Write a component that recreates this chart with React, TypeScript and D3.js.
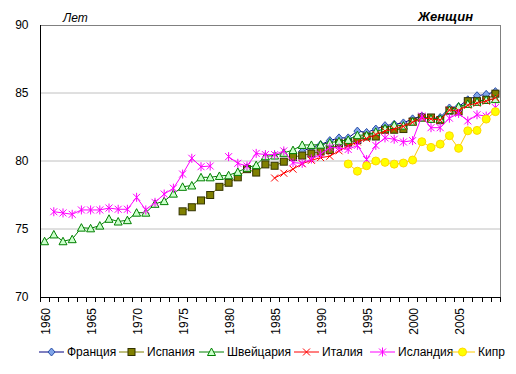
import React from "react";
import * as d3 from "d3";

const years: number[] = d3.range(1960, 2010);
const yTicks: number[] = [70, 75, 80, 85, 90];

type V = number | null;
const N = null;

// 1960..2009
const france: V[] = [
  N, N, N, N, N, N, N, N, N, N,
  N, N, N, N, N, N, N, N, N, N,
  N, N, N, N, N, N, N, N, 80.7, 81.0,
  81.2, 81.5, 81.7, 81.7, 82.2, 82.1, 82.35, 82.6, 82.7, 82.8,
  83.1, 83.3, 83.1, 83.2, 83.9, 84.0, 84.5, 84.8, 84.9, 85.1,
];
const spain: V[] = [
  N, N, N, N, N, N, N, N, N, N,
  N, N, N, N, N, 76.3, 76.6, 77.1, 77.5, 78.1,
  78.4, 78.8, 79.4, 79.15, 79.75, 79.65, 79.95, 80.3, 80.4, 80.55,
  80.7, 80.8, 81.3, 81.35, 81.55, 81.8, 81.8, 82.3, 82.3, 82.35,
  82.9, 83.2, 83.2, 83.0, 83.7, 83.65, 84.4, 84.4, 84.5, 84.95,
];
const switzerland: V[] = [
  74.1, 74.6, 74.1, 74.25, 75.1, 75.05, 75.25, 75.75, 75.55, 75.65,
  76.2, 76.2, 76.85, 77.05, 77.6, 78.1, 78.2, 78.8, 78.8, 78.9,
  78.95, 79.2, 79.5, 79.7, 80.35, 80.4, 80.6, 80.8, 81.18, 81.18,
  81.2, 81.35, 81.45, 81.55, 81.9, 81.9, 82.15, 82.4, 82.65, 82.6,
  82.9, 83.2, 83.1, 83.1, 83.75, 84.0, 84.2, 84.35, 84.5, 84.55,
];
const italy: V[] = [
  N, N, N, N, N, N, N, N, N, N,
  N, N, N, N, N, N, N, N, N, N,
  N, N, N, N, N, 78.75, 79.1, 79.4, 79.8, 80.05,
  80.25, 80.35, 80.75, 81.1, 81.4, 81.65, 81.95, 82.2, 82.35, 82.55,
  82.85, 83.15, 83.1, 83.0, 83.75, 83.7, 84.1, 84.25, 84.4, 84.65,
];
const iceland: V[] = [
  N, 76.27, 76.18, 76.08, 76.4, 76.4, 76.4, 76.54, 76.45, 76.45,
  77.33, 76.4, 76.96, 77.57, 78.0, 79.04, 80.2, 79.58, 79.63, N,
  80.32, 79.83, 79.63, 80.56, 80.47, 80.47, 80.74, 79.88, 79.83, 80.15,
  80.5, 81.0, 80.95, 80.85, 81.15, 80.1, 81.15, 81.7, 81.6, 81.4,
  81.5, 83.3, 82.45, 82.45, 83.15, 83.5, 82.95, 83.4, 83.3, 83.93,
];
const cyprus: V[] = [
  N, N, N, N, N, N, N, N, N, N,
  N, N, N, N, N, N, N, N, N, N,
  N, N, N, N, N, N, N, N, N, N,
  N, N, N, 79.78, 79.25, 79.65, 80.0, 79.9, 79.77, 79.85,
  80.07, 81.42, 81.0, 81.24, 81.86, 80.93, 82.22, 82.25, 83.08, 83.63,
];

const seriesNames: string[] = ["Франция", "Испания", "Швейцария", "Италия", "Исландия", "Кипр"];
const seriesValues: V[][] = [france, spain, switzerland, italy, iceland, cyprus];

type Style = { line: string; marker: string; fill: string; stroke: string };
const styles: Style[] = [
  { line: "#000080", marker: "diamond", fill: "#7FA4E8", stroke: "#2A4FA8" },
  { line: "#808000", marker: "square", fill: "#808000", stroke: "#333300" },
  { line: "#008000", marker: "triangle", fill: "#CCFFCC", stroke: "#008000" },
  { line: "#FF0000", marker: "x", fill: "none", stroke: "#FF0000" },
  { line: "#FF00FF", marker: "star", fill: "none", stroke: "#FF00FF" },
  { line: "#FFCC00", marker: "circle", fill: "#FFFF00", stroke: "#FFD700" },
];

const FONT = "'Liberation Sans', Arial, sans-serif";
const W = 516, H = 374;
const plot = { left: 40, right: 500, top: 25, bottom: 297 };
const legendX = [39, 119, 199, 294, 370, 450];
const legendY = 352;

function Marker({ kind, x, y, s }: { kind: string; x: number; y: number; s: Style }) {
  switch (kind) {
    case "diamond":
      return <path d={`M${x},${y - 4}L${x + 3.5},${y}L${x},${y + 4}L${x - 3.5},${y}Z`} fill={s.fill} stroke={s.stroke} strokeWidth={1} />;
    case "square":
      return <rect x={x - 3.5} y={y - 3.5} width={7} height={7} fill={s.fill} stroke={s.stroke} strokeWidth={1} />;
    case "triangle":
      return <path d={`M${x},${y - 4}L${x + 4},${y + 3.5}L${x - 4},${y + 3.5}Z`} fill={s.fill} stroke={s.stroke} strokeWidth={1} />;
    case "x":
      return <path d={`M${x - 3.5},${y - 3.5}L${x + 3.5},${y + 3.5}M${x - 3.5},${y + 3.5}L${x + 3.5},${y - 3.5}`} stroke={s.stroke} strokeWidth={1} fill="none" />;
    case "star":
      return <path d={`M${x - 3.5},${y - 3.5}L${x + 3.5},${y + 3.5}M${x - 3.5},${y + 3.5}L${x + 3.5},${y - 3.5}M${x},${y - 4.5}L${x},${y + 4.5}`} stroke={s.stroke} strokeWidth={1} fill="none" />;
    case "circle":
      return <circle cx={x} cy={y} r={4} fill={s.fill} stroke={s.stroke} strokeWidth={1} />;
  }
  return null;
}

export default function App() {
  const x = d3.scaleBand<number>().domain(years).range([plot.left, plot.right]).padding(0);
  const bw = x.bandwidth();
  const cx = (yr: number) => (x(yr) as number) + bw / 2;
  const y = d3.scaleLinear().domain([70, 90]).range([plot.bottom, plot.top]);

  const boundaries = d3.range(0, years.length + 1).map((i) => plot.left + i * bw);

  return (
    <svg width={W} height={H} style={{ position: "absolute", left: 0, top: 0, background: "#fff" }} fontFamily={FONT}>
      <rect x={0} y={0} width={W} height={H} fill="#fff" />
      {/* gridlines */}
      {yTicks.filter((t) => t !== 70 && t !== 90).map((t) => (
        <line key={t} x1={plot.left} x2={plot.right} y1={y(t)} y2={y(t)} stroke="#C0C0C0" strokeWidth={1} />
      ))}
      {/* plot border */}
      <line x1={plot.left} x2={plot.right} y1={plot.top + 0.5} y2={plot.top + 0.5} stroke="#808080" />
      <line x1={plot.right + 0.5} x2={plot.right + 0.5} y1={plot.top} y2={plot.bottom} stroke="#808080" />
      {/* axes */}
      <line x1={plot.left + 0.5} x2={plot.left + 0.5} y1={plot.top} y2={plot.bottom} stroke="#000" />
      <line x1={plot.left} x2={plot.right + 1} y1={plot.bottom + 0.5} y2={plot.bottom + 0.5} stroke="#000" />
      {boundaries.map((bx, i) => (
        <line key={i} x1={Math.round(bx) + 0.5} x2={Math.round(bx) + 0.5} y1={plot.bottom} y2={plot.bottom + 5} stroke="#000" />
      ))}
      {yTicks.map((t) => (
        <text key={t} x={28.5} y={y(t)} dy="0.36em" textAnchor="end" fontSize={12} fill="#000">{t}</text>
      ))}
      {years.filter((yr) => yr % 5 === 0).map((yr) => (
        <text key={yr} transform={`translate(${cx(yr)},${308}) rotate(-90)`} dy="0.42em" textAnchor="end" fontSize={12} fill="#000">{yr}</text>
      ))}
      <text x={63} y={21.5} fontSize={12} fontStyle="italic" fill="#000">Лет</text>
      <text x={473} y={20.5} fontSize={13} fontStyle="italic" fontWeight="bold" fill="#000" textAnchor="end">Женщин</text>

      {/* series */}
      {seriesValues.map((vals, si) => {
        const s = styles[si];
        const pts = years.map((yr, i) => ({ yr, v: vals[i] }));
        const line = d3.line<{ yr: number; v: V }>()
          .defined((d) => d.v !== null)
          .x((d) => cx(d.yr))
          .y((d) => y(d.v as number));
        return (
          <g key={si}>
            <path d={line(pts) || ""} fill="none" stroke={s.line} strokeWidth={1} />
            {pts.filter((p) => p.v !== null).map((p) => (
              <Marker key={p.yr} kind={s.marker} x={cx(p.yr)} y={y(p.v as number)} s={s} />
            ))}
          </g>
        );
      })}

      {/* legend */}
      {seriesNames.map((name, i) => {
        const s = styles[i];
        const lx = legendX[i];
        return (
          <g key={name}>
            <line x1={lx} x2={lx + 25} y1={legendY} y2={legendY} stroke={s.line} strokeWidth={1} />
            <Marker kind={s.marker} x={lx + 12.5} y={legendY} s={s} />
            <text x={lx + 28} y={legendY} dy="0.36em" fontSize={12} fill="#000">{name}</text>
          </g>
        );
      })}
    </svg>
  );
}
